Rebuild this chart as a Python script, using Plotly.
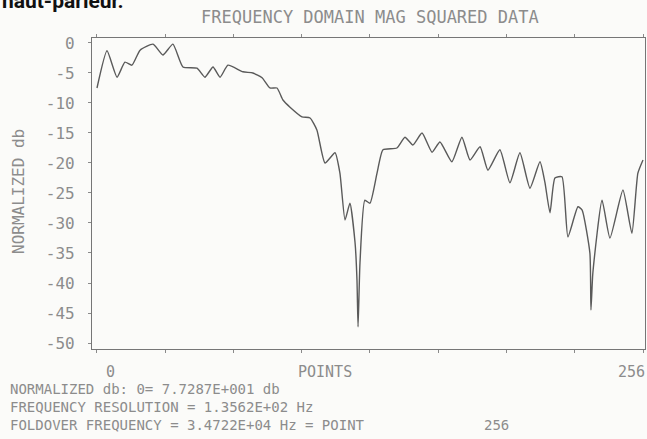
import plotly.graph_objects as go

# Sample index (0..256) and normalised magnitude in dB
points = [0, 4.7, 9.4, 13.1, 16.4, 20.2, 26.3, 30.9, 35.6, 40.3,
          46.9, 50.6, 54.4, 57.7, 61.4, 68.4, 73.1, 77.4, 81.1, 84.4,
          87.2, 90.5, 96.1, 99.9, 103.1, 106.9, 111.6, 113.9, 116.3, 118.6,
          121.0, 121.9, 122.4, 123.3, 125.6, 128.0, 131.3, 134.1, 140.6, 144.4,
          148.1, 152.4, 157.1, 160.8, 166.4, 171.1, 174.9, 179.6, 183.3, 188.9,
          193.6, 198.3, 203.0, 207.7, 210.0, 212.4, 214.7, 218.0, 220.8, 225.5,
          227.4, 231.1, 231.6, 232.5, 236.8, 240.5, 246.6, 250.8, 253.6, 256]
db = [-7.5, -1.3, -5.7, -3.2, -3.7, -1.2, -0.2, -2.0, -0.2, -4.0,
      -4.2, -5.7, -4.0, -5.7, -3.7, -4.8, -5.0, -5.8, -7.5, -7.5,
      -9.5, -10.7, -12.3, -12.5, -14.5, -20.0, -18.3, -21.7, -29.5, -26.7,
      -33.3, -39.5, -47.3, -36.7, -26.2, -26.7, -21.7, -17.8, -17.5, -15.7,
      -17.0, -15.0, -18.2, -16.5, -19.8, -15.7, -19.5, -17.3, -21.2, -17.8,
      -23.3, -18.3, -24.2, -19.8, -23.2, -28.3, -22.5, -22.3, -32.3, -27.3,
      -27.8, -35.0, -44.5, -38.3, -26.2, -32.5, -24.5, -31.7, -21.7, -19.5]

x_ticks = [0, 32, 64, 96, 128, 160, 192, 224, 256]
y_ticks = [0, -5, -10, -15, -20, -25, -30, -35, -40, -45, -50]
y_labels = ["0", "-5", "-10", "-15", "-20", "-25", "-30", "-35", "-40", "-45", "-50"]

title_text = "FREQUENCY DOMAIN MAG SQUARED DATA"
y_title = "NORMALIZED db"
x_title = "POINTS"
x_end_labels = ["0", "256"]
info_lines = [
    "NORMALIZED db: 0= 7.7287E+001 db",
    "FREQUENCY RESOLUTION = 1.3562E+02 Hz",
    "FOLDOVER FREQUENCY = 3.4722E+04 Hz = POINT",
]
info_last = "256"
caption = "haut-parleur."

W, H = 647, 439
ML, MR, MT, MB = 92, 2, 38, 90
PW, PH = W - ML - MR, H - MT - MB

def px(xp):
    return (xp - ML) / PW

def py(yp):
    return (H - MB - yp) / PH

INK = "#8c8c8c"
MONO = "DejaVu Sans Mono"

fig = go.Figure(go.Scatter(
    x=points, y=db, mode="lines",
    line=dict(color="#5a5a5a", width=1.4, shape="spline", smoothing=0.5),
    hoverinfo="skip",
))

fig.update_layout(
    width=W, height=H,
    margin=dict(l=ML, r=MR, t=MT, b=MB),
    paper_bgcolor="#fbfbf9", plot_bgcolor="#fbfbf9",
    showlegend=False,
    font=dict(family=MONO, color=INK, size=13),
)

fig.update_xaxes(
    range=[-2.34, 256.94], tickvals=x_ticks, showticklabels=False,
    ticks="outside", ticklen=3, tickcolor="#8a8a8a", tickwidth=1,
    showline=True, linecolor="#767676", linewidth=1.2, mirror="allticks",
    showgrid=False, zeroline=False,
)
fig.update_yaxes(
    range=[-51.0, 0.83], tickvals=y_ticks, ticktext=y_labels,
    ticks="outside", ticklen=3, tickcolor="#8a8a8a", tickwidth=1,
    ticklabelstandoff=10, tickfont=dict(family=MONO, size=16, color=INK),
    showline=True, linecolor="#767676", linewidth=1.2, mirror=True,
    showgrid=False, zeroline=False,
)

ann = []
ann.append(dict(text=title_text, x=px(370), y=py(17), xref="paper", yref="paper",
                showarrow=False, xanchor="center", yanchor="middle",
                font=dict(family=MONO, size=17, color=INK)))
ann.append(dict(text=y_title, x=px(18), y=py(192), xref="paper", yref="paper",
                showarrow=False, textangle=-90, xanchor="center", yanchor="middle",
                font=dict(family=MONO, size=16, color=INK)))
ann.append(dict(text=x_end_labels[0], x=6.1, y=py(372), xref="x", yref="paper",
                showarrow=False, xanchor="center", yanchor="middle",
                font=dict(family=MONO, size=15, color=INK)))
ann.append(dict(text=x_title, x=px(325), y=py(372), xref="paper", yref="paper",
                showarrow=False, xanchor="center", yanchor="middle",
                font=dict(family=MONO, size=15, color=INK)))
ann.append(dict(text=x_end_labels[1], x=250.8, y=py(372), xref="x", yref="paper",
                showarrow=False, xanchor="center", yanchor="middle",
                font=dict(family=MONO, size=15, color=INK)))
for i, line in enumerate(info_lines):
    ann.append(dict(text=line, x=px(8), y=py(389 + 18 * i), xref="paper", yref="paper",
                    showarrow=False, xanchor="left", yanchor="middle",
                    font=dict(family=MONO, size=14, color=INK)))
ann.append(dict(text=info_last, x=px(482), y=py(425), xref="paper", yref="paper",
                showarrow=False, xanchor="left", yanchor="middle",
                font=dict(family=MONO, size=14, color=INK)))
ann.append(dict(text="<b>" + caption + "</b>", x=px(0), y=py(15), xref="paper", yref="paper",
                showarrow=False, xanchor="left", yanchor="bottom",
                font=dict(family="Liberation Sans Narrow, Roboto", size=21, color="#111111")))
fig.update_layout(annotations=ann)

fig.write_html("out.html")
